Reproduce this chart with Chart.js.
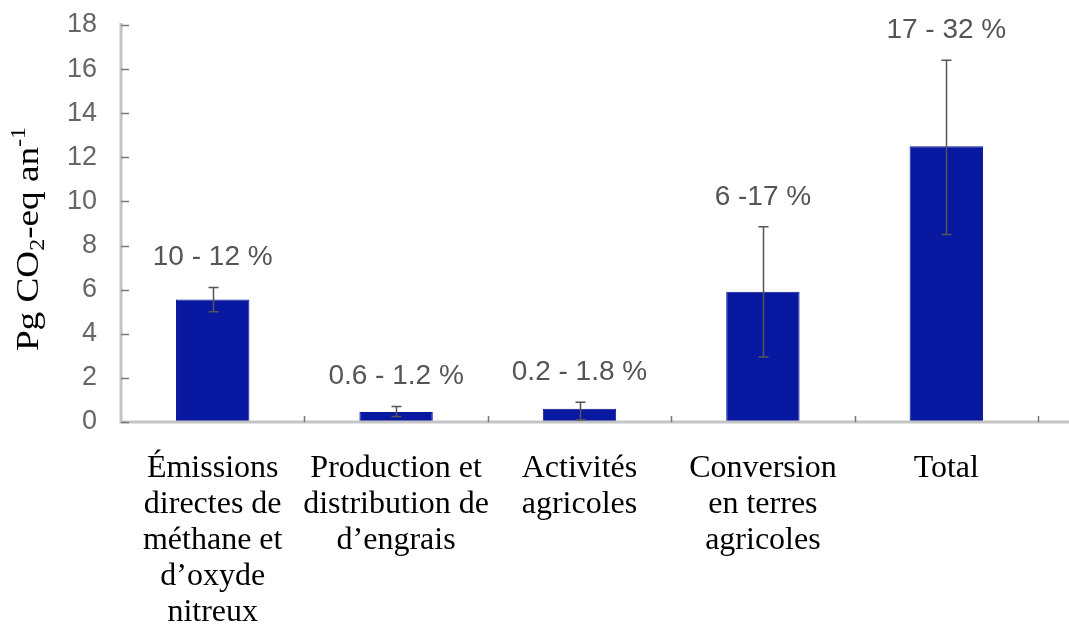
<!DOCTYPE html>
<html>
<head>
<meta charset="utf-8">
<script src="https://cdn.jsdelivr.net/npm/chart.js@4"></script>
<style>
  body { margin: 0; background: #fff; }
</style>
</head>
<body>
<canvas id="emissionsChart" width="1069" height="626"></canvas>
<script>
//=[ Data ]======================================================================

const categories = [
  ["Émissions", "directes de", "méthane et", "d’oxyde", "nitreux"],
  ["Production et", "distribution de", "d’engrais"],
  ["Activités", "agricoles"],
  ["Conversion", "en terres", "agricoles"],
  ["Total"],
];
const emissions = [5.55, 0.45, 0.6, 5.9, 12.5];
const errorLow = [5.0, 0.25, 0.1, 2.95, 8.5];
const errorHigh = [6.1, 0.7, 0.9, 8.85, 16.4];
const shareLabels = ["10 - 12 %", "0.6 - 1.2 %", "0.2 - 1.8 %", "6 -17 %", "17 - 32 %"];
const yTicks = [0, 2, 4, 6, 8, 10, 12, 14, 16, 18];

const sansFont = '"Liberation Sans", Arial, sans-serif';
const serifFont = '"Liberation Serif", "Times New Roman", serif';

//=[ Extras: axes, error bars, labels, title ]===================================

const extrasPlugin = {
  id: "extras",
  afterDatasetsDraw(chart) {
    const { ctx, chartArea, scales } = chart;
    const x = scales.x;
    const y = scales.y;
    ctx.save();

    // axis lines
    ctx.strokeStyle = "#c4c4c4";
    ctx.lineWidth = 3;
    ctx.beginPath();
    ctx.moveTo(chartArea.left, chartArea.top - 2);
    ctx.lineTo(chartArea.left, chartArea.bottom);
    ctx.lineTo(chart.width, chartArea.bottom);
    ctx.stroke();

    // inward tick marks
    ctx.strokeStyle = "#777";
    ctx.lineWidth = 1.5;
    ctx.beginPath();
    yTicks.forEach((v) => {
      const py = Math.round(y.getPixelForValue(v)) + 0.5;
      ctx.moveTo(chartArea.left, py);
      ctx.lineTo(chartArea.left + 8, py);
    });
    const step = (chartArea.right - chartArea.left) / categories.length;
    for (let i = 1; i <= categories.length; i++) {
      const px = Math.round(chartArea.left + i * step) + 0.5;
      ctx.moveTo(px, chartArea.bottom);
      ctx.lineTo(px, chartArea.bottom - 6);
    }
    ctx.stroke();

    // error bars
    ctx.strokeStyle = "#555";
    ctx.lineWidth = 1.5;
    emissions.forEach((v, i) => {
      const cx = Math.round(x.getPixelForValue(i)) + 0.5;
      const top = y.getPixelForValue(errorHigh[i]);
      const bottom = y.getPixelForValue(errorLow[i]);
      ctx.beginPath();
      ctx.moveTo(cx, top);
      ctx.lineTo(cx, bottom);
      ctx.moveTo(cx - 5, top);
      ctx.lineTo(cx + 5, top);
      ctx.moveTo(cx - 5, bottom);
      ctx.lineTo(cx + 5, bottom);
      ctx.stroke();
    });

    // share labels
    ctx.fillStyle = "#555";
    ctx.font = "28px " + sansFont;
    ctx.textAlign = "center";
    ctx.textBaseline = "middle";
    shareLabels.forEach((label, i) => {
      const cx = x.getPixelForValue(i);
      ctx.fillText(label, cx, y.getPixelForValue(errorHigh[i]) - 30);
    });

    // y title with subscript and superscript
    const parts = [
      { text: "Pg CO", size: 31, shift: 0 },
      { text: "2", size: 20, shift: 6 },
      { text: "-eq an", size: 31, shift: 0 },
      { text: "-1", size: 20, shift: -13 },
    ];
    ctx.fillStyle = "#000";
    ctx.textAlign = "left";
    ctx.textBaseline = "alphabetic";
    let total = 0;
    parts.forEach((p) => {
      ctx.font = p.size + "px " + serifFont;
      p.width = ctx.measureText(p.text).width;
      total += p.width;
    });
    ctx.translate(38, 239);
    ctx.rotate(-Math.PI / 2);
    ctx.scale(1.2, 1);
    let pos = -total / 2;
    parts.forEach((p) => {
      ctx.font = p.size + "px " + serifFont;
      ctx.fillText(p.text, pos, p.shift);
      pos += p.width;
    });

    ctx.restore();
  },
};

//=[ Chart ]=====================================================================

const emissionsConfig = {
  type: "bar",
  data: {
    labels: categories,
    datasets: [
      {
        data: emissions,
        backgroundColor: "#0818a0",
        borderColor: "#0a1690",
        borderWidth: 1,
        barPercentage: 0.4,
        categoryPercentage: 1,
      },
    ],
  },
  options: {
    responsive: false,
    animation: false,
    devicePixelRatio: 1,
    layout: {
      padding: { top: 25, right: 31, left: 0, bottom: 0 },
    },
    scales: {
      x: {
        grid: { display: false, drawTicks: false },
        border: { display: false },
        ticks: {
          color: "#000",
          padding: 29,
          maxRotation: 0,
          autoSkip: false,
          font: { family: serifFont, size: 32, lineHeight: 1.125 },
        },
        afterFit(scale) {
          scale.height = 204;
        },
      },
      y: {
        min: 0,
        max: 18,
        grid: { display: false, drawTicks: false },
        border: { display: false },
        ticks: {
          stepSize: 2,
          color: "#666",
          padding: 24,
          font: { family: sansFont, size: 27 },
        },
        afterFit(scale) {
          scale.width = 121;
          scale.paddingTop = 0;
          scale.paddingBottom = 0;
        },
      },
    },
    plugins: {
      legend: { display: false },
      tooltip: { enabled: false },
    },
  },
  plugins: [extrasPlugin],
};

new Chart(document.getElementById("emissionsChart"), emissionsConfig);
</script>
</body>
</html>
